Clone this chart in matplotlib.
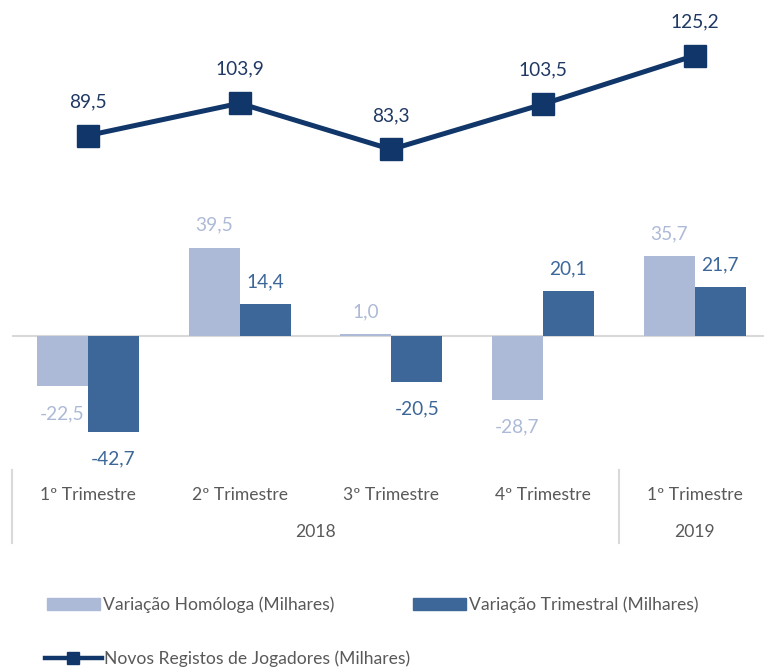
import matplotlib
matplotlib.use("Agg")
import matplotlib.pyplot as plt
from matplotlib.lines import Line2D
from matplotlib.patches import Patch
import numpy as np

plt.rcParams['font.family'] = ['Lato', 'DejaVu Sans']

quarters = ["1º Trimestre", "2º Trimestre", "3º Trimestre", "4º Trimestre", "1º Trimestre"]
years = ["2018", "2019"]
year_spans = [(0, 3), (4, 4)]
var_homologa = [-22.5, 39.5, 1.0, -28.7, 35.7]
var_trimestral = [-42.7, 14.4, -20.5, 20.1, 21.7]
novos_registos = [89.5, 103.9, 83.3, 103.5, 125.2]

series_names = ["Variação Homóloga (Milhares)", "Variação Trimestral (Milhares)",
                "Novos Registos de Jogadores (Milhares)"]

c_light = "#ADBAD7"
c_dark = "#3D6799"
c_navy = "#11376A"
c_text = "#595959"

W, H = 764, 668
fig = plt.figure(figsize=(W / 100, H / 100), dpi=100)
ax_top_px, ax_bot_px = 0, 470
ax_left_px, ax_w_px = 12, 758.5
ax = fig.add_axes([ax_left_px / W, (H - ax_bot_px) / H, ax_w_px / W, (ax_bot_px - ax_top_px) / H])

zero_px = 336
scale = 2.24
ax.set_ylim(-(ax_bot_px - zero_px) / scale, (zero_px - ax_top_px) / scale)
ax.set_xlim(-0.5, len(quarters) - 0.5)

x = np.arange(len(quarters))
bw = 0.336
ax.bar(x - bw / 2, var_homologa, bw, color=c_light, zorder=2)
ax.bar(x + bw / 2, var_trimestral, bw, color=c_dark, zorder=2)
ax.axhline(0, color="#D9D9D9", lw=1.5, zorder=1)

ax.plot(x, novos_registos, color=c_navy, lw=3.6, marker="s", markersize=16.5,
        markeredgecolor=c_navy, zorder=4, solid_joinstyle="miter")

def fmt(v):
    return f"{v:.1f}".replace(".", ",")

LFS = 13.8
for xi, v in zip(x - bw / 2, var_homologa):
    off = 16 if v >= 0 else -19.5
    ax.annotate(fmt(v), (xi, v), xytext=(0, off), textcoords="offset points",
                ha="center", va="center", fontsize=LFS, color=c_light)
for xi, v in zip(x + bw / 2, var_trimestral):
    off = 16 if v >= 0 else -19.5
    ax.annotate(fmt(v), (xi, v), xytext=(0, off), textcoords="offset points",
                ha="center", va="center", fontsize=LFS, color=c_dark)
for xi, v in zip(x, novos_registos):
    ax.annotate(fmt(v), (xi, v), xytext=(0, 24.5), textcoords="offset points",
                ha="center", va="center", fontsize=LFS, color="#1F3864")

for s in ax.spines.values():
    s.set_visible(False)
ax.set_xticks([])
ax.set_yticks([])

# Multi-level category axis
tr = ax.get_xaxis_transform()
h_ax = ax_bot_px - ax_top_px
def yfrac(px):
    return (ax_bot_px - px) / h_ax

AFS = 12.6
for xi, q in zip(x, quarters):
    ax.text(xi, yfrac(495), q, transform=tr, ha="center", va="center",
            fontsize=AFS, color=c_text)
for (a, b), yr in zip(year_spans, years):
    ax.text((a + b) / 2, yfrac(532), yr, transform=tr, ha="center", va="center",
            fontsize=AFS, color=c_text)
for sep in [-0.5, 3.5]:
    ax.add_line(Line2D([sep, sep], [yfrac(470), yfrac(543)], transform=tr,
                       color="#D9D9D9", lw=1.5, clip_on=False))

# Legends
def add_legend(handle, label, x_px, y_px, hl):
    leg = fig.legend([handle], [label], loc="center left",
                     bbox_to_anchor=(x_px / W, (H - y_px) / H),
                     frameon=False, borderpad=0, borderaxespad=0,
                     handlelength=hl, handleheight=0.7, handletextpad=0.15,
                     fontsize=AFS, labelcolor=c_text)
    return leg

add_legend(Patch(color=c_light), series_names[0], 47, 605, 3.05)
add_legend(Patch(color=c_dark), series_names[1], 413, 605, 3.05)
add_legend(Line2D([0], [0], color=c_navy, lw=3.2, marker="s", markersize=8.5),
           series_names[2], 45, 659, 3.25)

fig.savefig("out.png", dpi=100)
